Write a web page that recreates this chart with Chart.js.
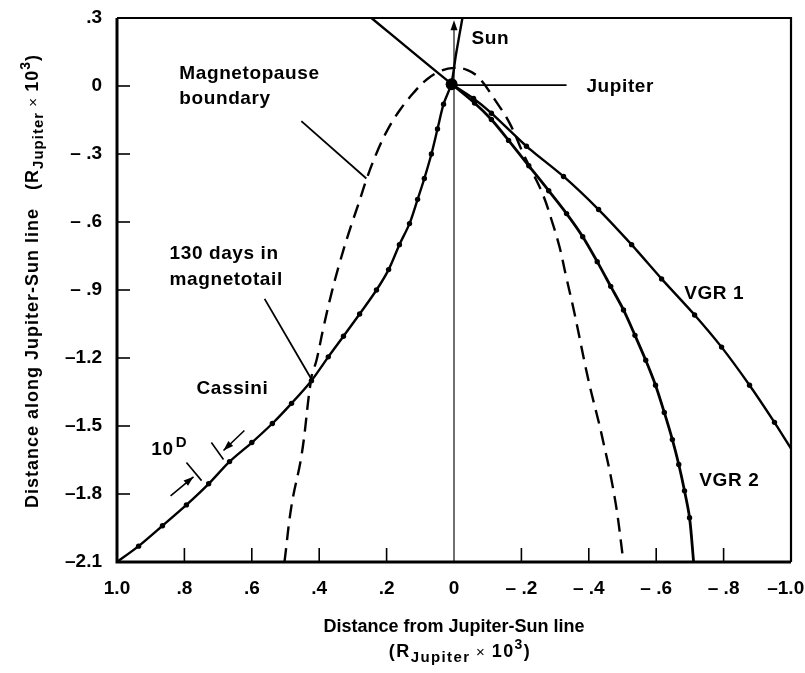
<!DOCTYPE html>
<html lang="en">
<head>
<meta charset="UTF-8" />
<title>Cassini and Voyager paths near Jupiter</title>
<script src="https://cdn.jsdelivr.net/npm/chart.js@4.4.0/dist/chart.umd.min.js"></script>
<style>
  body { margin: 0; background: #fff; }
  #wrap { width: 805px; height: 673px; }
</style>
</head>
<body>
<div id="wrap"><canvas id="trajChart" width="805" height="673"></canvas></div>
<script>
// axis ticks
const xTickValues = [1.0, 0.8, 0.6, 0.4, 0.2, 0, -0.2, -0.4, -0.6, -0.8, -1.0];
const xTickLabels = ['1.0', '.8', '.6', '.4', '.2', '0', '– .2', '– .4', '– .6', '– .8', '–1.0\u00a0\u00a0'];
const yTickValues = [0.3, 0, -0.3, -0.6, -0.9, -1.2, -1.5, -1.8, -2.1];
const yTickLabels = ['.3', '0', '– .3', '– .6', '– .9', '–1.2', '–1.5', '–1.8', '–2.1'];

// trajectories (x = distance from Jupiter-Sun line, y = distance along it), R_J x 10^3
const cassiniX = [1.0, 0.936, 0.865, 0.794, 0.728, 0.666, 0.60, 0.539, 0.482, 0.423, 0.373, 0.328, 0.28, 0.23, 0.194, 0.162, 0.132, 0.108, 0.088, 0.067, 0.049, 0.031, 0.008, -0.006, -0.025];
const cassiniY = [-2.1, -2.03, -1.94, -1.848, -1.755, -1.657, -1.573, -1.489, -1.40, -1.30, -1.195, -1.104, -1.006, -0.90, -0.81, -0.70, -0.607, -0.50, -0.408, -0.30, -0.19, -0.08, 0.01, 0.14, 0.3];

const vgr1X = [0.245, 0.008, -0.058, -0.111, -0.215, -0.325, -0.429, -0.527, -0.616, -0.714, -0.794, -0.877, -0.951, -1.0];
const vgr1Y = [0.3, 0.01, -0.055, -0.12, -0.266, -0.399, -0.545, -0.70, -0.851, -1.01, -1.152, -1.32, -1.484, -1.6];

const vgr2X = [0.008, -0.061, -0.111, -0.162, -0.222, -0.281, -0.334, -0.382, -0.425, -0.465, -0.503, -0.537, -0.569, -0.598, -0.624, -0.648, -0.667, -0.684, -0.699, -0.711];
const vgr2Y = [0.01, -0.075, -0.148, -0.24, -0.352, -0.462, -0.563, -0.665, -0.775, -0.884, -0.988, -1.10, -1.21, -1.32, -1.44, -1.56, -1.67, -1.786, -1.905, -2.1];

const magnetopauseX = [0.503, 0.482, 0.452, 0.423, 0.408, 0.387, 0.364, 0.34, 0.313, 0.283, 0.258, 0.228, 0.196, 0.16, 0.12, 0.08, 0.04, 0.0, -0.04, -0.075, -0.12, -0.165, -0.209, -0.239, -0.266, -0.289, -0.313, -0.331, -0.358, -0.399, -0.438, -0.477, -0.503];
const magnetopauseY = [-2.1, -1.85, -1.626, -1.285, -1.21, -1.063, -0.917, -0.784, -0.651, -0.518, -0.405, -0.29, -0.19, -0.105, -0.03, 0.03, 0.066, 0.08, 0.07, 0.035, -0.058, -0.164, -0.31, -0.399, -0.487, -0.589, -0.709, -0.829, -1.006, -1.298, -1.537, -1.817, -2.1];

const jupiterX = [0.007];
const jupiterY = [0.008];
const sunLineX = [0, 0];
const sunLineY = [-2.1, 0.27];

// annotation anchors in data units
const leaderLines = [
  [[0.453, -0.155], [0.26, -0.408]],
  [[0.562, -0.939], [0.423, -1.294]],
  [[0.007, 0.004], [-0.334, 0.004]]
];
const spanTicks = [
  [[0.794, -1.661], [0.749, -1.741]],
  [[0.72, -1.573], [0.684, -1.648]]
];
const spanArrows = [
  [[0.841, -1.808], [0.773, -1.724]],
  [[0.622, -1.52], [0.684, -1.608]]
];
const labelTexts = ['Sun', 'Jupiter', 'Magnetopause', 'boundary', '130 days in', 'magnetotail', 'Cassini', 'VGR 1', 'VGR 2', '10'];
const labelX = [-0.052, -0.393, 0.815, 0.815, 0.844, 0.844, 0.764, -0.683, -0.728, 0.898];
const labelY = [0.186, -0.027, 0.031, -0.08, -0.762, -0.877, -1.36, -0.939, -1.763, -1.626];

const pts = (xs, ys) => xs.map((x, i) => ({ x: x, y: ys[i] }));

function dotRadius(ctx) {
  const p = ctx.raw;
  if (!p) return 0;
  return (p.y < -0.04 && p.y > -2.09 && p.x > -0.99 && p.x < 0.99) ? 2.7 : 0;
}

const FONT = '"Liberation Sans", Arial, sans-serif';

function drawParts(ctx, parts, cx, cy, spacing) {
  // parts: [text, font, dy]
  ctx.letterSpacing = spacing + 'px';
  let total = 0;
  parts.forEach(p => { ctx.font = p[1]; total += ctx.measureText(p[0]).width; });
  let x = cx - total / 2;
  parts.forEach(p => {
    ctx.font = p[1];
    ctx.fillText(p[0], x, cy + p[2]);
    x += ctx.measureText(p[0]).width;
  });
  ctx.letterSpacing = '0px';
}

function arrowHead(ctx, from, to) {
  const a = Math.atan2(to[1] - from[1], to[0] - from[0]);
  const len = 10, half = 3.5;
  ctx.beginPath();
  ctx.moveTo(to[0], to[1]);
  ctx.lineTo(to[0] - len * Math.cos(a) + half * Math.sin(a), to[1] - len * Math.sin(a) - half * Math.cos(a));
  ctx.lineTo(to[0] - len * Math.cos(a) - half * Math.sin(a), to[1] - len * Math.sin(a) + half * Math.cos(a));
  ctx.closePath();
  ctx.fill();
}

const decor = {
  id: 'decor',
  afterDraw(chart) {
    const ctx = chart.ctx;
    const xs = chart.scales.x, ys = chart.scales.y;
    const a = chart.chartArea;
    const P = d => [xs.getPixelForValue(d[0]), ys.getPixelForValue(d[1])];
    ctx.save();
    ctx.strokeStyle = '#000';
    ctx.fillStyle = '#000';
    ctx.lineCap = 'butt';

    // frame
    ctx.lineWidth = 3;
    ctx.beginPath();
    ctx.moveTo(a.left, a.top); ctx.lineTo(a.left, a.bottom); ctx.lineTo(a.right, a.bottom);
    ctx.stroke();
    ctx.lineWidth = 2.2;
    ctx.beginPath();
    ctx.moveTo(a.left, a.top); ctx.lineTo(a.right, a.top); ctx.lineTo(a.right, a.bottom);
    ctx.stroke();

    // inward tick marks
    ctx.lineWidth = 1.6;
    xTickValues.forEach(v => {
      if (Math.abs(v) < 1e-6 || Math.abs(v) > 0.99) return;
      const px = xs.getPixelForValue(v);
      ctx.beginPath(); ctx.moveTo(px, a.bottom); ctx.lineTo(px, a.bottom - 14); ctx.stroke();
    });
    yTickValues.forEach(v => {
      if (v > 0.29 || v < -2.09) return;
      const py = ys.getPixelForValue(v);
      ctx.beginPath(); ctx.moveTo(a.left, py); ctx.lineTo(a.left + 13, py); ctx.stroke();
    });

    // Sun arrow head
    const tip = P([sunLineX[1], 0.29]);
    const tail = P([sunLineX[0], 0.0]);
    arrowHead(ctx, tail, tip);

    // leader lines
    ctx.lineWidth = 1.8;
    leaderLines.forEach(l => {
      const p0 = P(l[0]), p1 = P(l[1]);
      ctx.beginPath(); ctx.moveTo(p0[0], p0[1]); ctx.lineTo(p1[0], p1[1]); ctx.stroke();
    });

    // 10-day interval markers
    ctx.lineWidth = 1.6;
    spanTicks.forEach(l => {
      const p0 = P(l[0]), p1 = P(l[1]);
      ctx.beginPath(); ctx.moveTo(p0[0], p0[1]); ctx.lineTo(p1[0], p1[1]); ctx.stroke();
    });
    spanArrows.forEach(l => {
      const p0 = P(l[0]), p1 = P(l[1]);
      ctx.beginPath(); ctx.moveTo(p0[0], p0[1]); ctx.lineTo(p1[0], p1[1]); ctx.stroke();
      arrowHead(ctx, p0, p1);
    });

    // annotation labels
    ctx.textBaseline = 'alphabetic';
    ctx.textAlign = 'left';
    ctx.letterSpacing = '0.6px';
    ctx.font = 'bold 19px ' + FONT;
    labelTexts.forEach((t, i) => {
      const p = P([labelX[i], labelY[i]]);
      ctx.fillText(t, p[0], p[1]);
    });
    const tenEnd = P([labelX[9], labelY[9]]);
    const tenW = ctx.measureText('10').width;
    ctx.font = 'bold 15px ' + FONT;
    ctx.fillText('D', tenEnd[0] + tenW + 2, tenEnd[1] - 8);
    ctx.letterSpacing = '0px';

    // axis titles
    ctx.font = 'bold 18px ' + FONT;
    ctx.textAlign = 'center';
    ctx.fillText('Distance from Jupiter-Sun line', 454, 632);
    ctx.textAlign = 'left';
    const unitParts = [
      ['(R', 'bold 18px ' + FONT, 0],
      ['Jupiter', 'bold 15px ' + FONT, 5],
      [' \u00d7 ', '15px ' + FONT, 0],
      ['10', 'bold 18px ' + FONT, 0],
      ['3', 'bold 14px ' + FONT, -8],
      [')', 'bold 18px ' + FONT, 0]
    ];
    drawParts(ctx, unitParts, 460, 657, 1.4);

    ctx.translate(38, 281);
    ctx.rotate(-Math.PI / 2);
    drawParts(ctx, [['Distance along Jupiter-Sun line   ', 'bold 18px ' + FONT, 0]].concat(unitParts), 0, 0, 1.0);
    ctx.restore();
  }
};

const blackLine = (data, extra) => Object.assign({
  data: data,
  showLine: true,
  borderColor: '#000',
  backgroundColor: '#000',
  pointBackgroundColor: '#000',
  pointBorderWidth: 0,
  pointRadius: dotRadius,
  borderWidth: 2.4,
  tension: 0.3,
  fill: false
}, extra || {});

new Chart(document.getElementById('trajChart'), {
  type: 'scatter',
  data: {
    datasets: [
      blackLine(pts(jupiterX, jupiterY), { label: 'Jupiter', showLine: false, pointRadius: 6 }),
      blackLine(pts(cassiniX, cassiniY), { label: 'Cassini' }),
      blackLine(pts(vgr1X, vgr1Y), { label: 'VGR 1', tension: 0.2 }),
      blackLine(pts(vgr2X, vgr2Y), { label: 'VGR 2', borderWidth: 2.8 }),
      blackLine(pts(magnetopauseX, magnetopauseY), { label: 'Magnetopause boundary', pointRadius: 0, borderDash: [14, 8], borderWidth: 2.4, tension: 0.4 }),
      blackLine(pts(sunLineX, sunLineY), { label: 'Sun line', pointRadius: 0, borderWidth: 1.4, borderColor: '#333', tension: 0 })
    ]
  },
  options: {
    responsive: false,
    devicePixelRatio: 1,
    animation: false,
    layout: { padding: { top: 18, right: 14, left: 0, bottom: 0 } },
    plugins: { legend: { display: false }, tooltip: { enabled: false } },
    scales: {
      x: {
        type: 'linear',
        min: -1, max: 1,
        reverse: true,
        grid: { display: false, drawTicks: false },
        border: { display: false },
        afterBuildTicks: s => { s.ticks = xTickValues.map(v => ({ value: v })); },
        afterFit: s => { s.height = 111; s.paddingLeft = 0; s.paddingRight = 0; },
        ticks: {
          color: '#000',
          padding: 15,
          maxRotation: 0,
          autoSkip: false,
          font: { family: FONT, size: 19, weight: 'bold' },
          callback: v => { const i = xTickValues.findIndex(t => Math.abs(t - v) < 1e-6); return i >= 0 ? xTickLabels[i] : ''; }
        }
      },
      y: {
        type: 'linear',
        min: -2.1, max: 0.3,
        grid: { display: false, drawTicks: false },
        border: { display: false },
        afterBuildTicks: s => { s.ticks = yTickValues.map(v => ({ value: v })); },
        afterFit: s => { s.width = 117; s.paddingTop = 0; s.paddingBottom = 0; },
        ticks: {
          color: '#000',
          padding: 15,
          autoSkip: false,
          font: { family: FONT, size: 19, weight: 'bold' },
          callback: v => { const i = yTickValues.findIndex(t => Math.abs(t - v) < 1e-6); return i >= 0 ? yTickLabels[i] : ''; }
        }
      }
    }
  },
  plugins: [decor]
});
</script>
</body>
</html>
